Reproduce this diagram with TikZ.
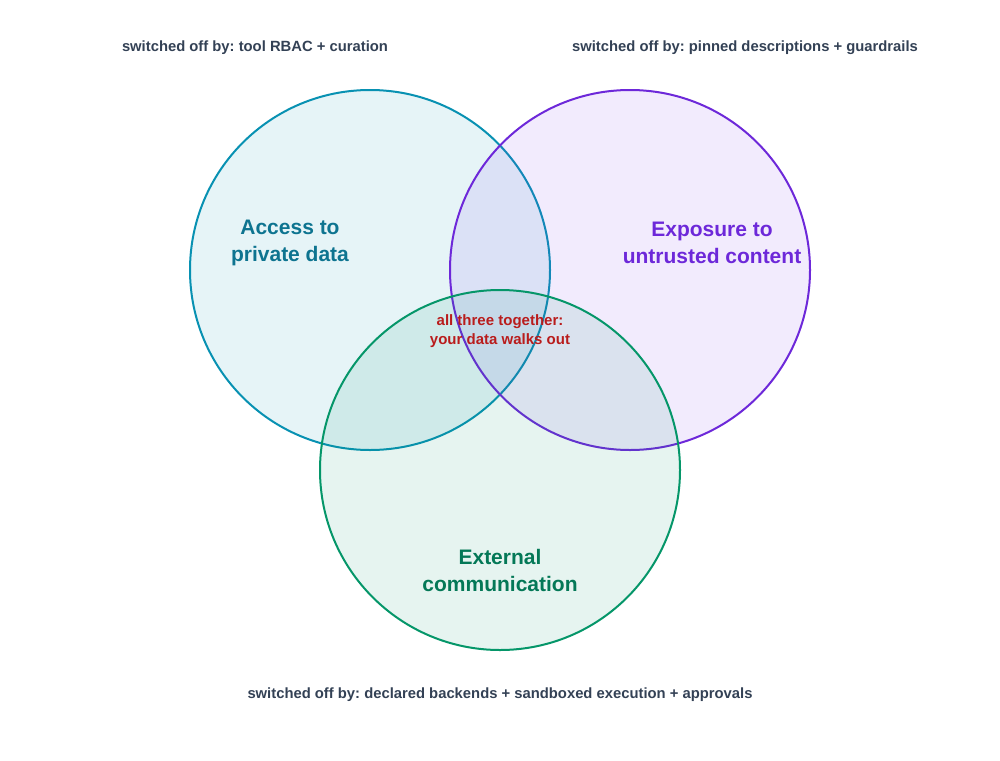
\documentclass[tikz,border=0pt]{standalone}
\usepackage{fontspec}
\setmainfont{Liberation Sans}
\usepackage{tikz}
\frenchspacing
\definecolor{cyan}{HTML}{0891B2}
\definecolor{teal}{HTML}{0E7490}
\definecolor{purple}{HTML}{6D28D9}
\definecolor{violet}{HTML}{7C3AED}
\definecolor{green}{HTML}{059669}
\definecolor{darkgreen}{HTML}{047857}
\definecolor{red}{HTML}{B91C1C}
\definecolor{slate}{HTML}{334155}
\tikzset{
  set/.style={line width=2pt, fill opacity=0.1},
  setlabel/.style={font=\fontsize{21}{27}\selectfont\bfseries, align=center},
  offlabel/.style={font=\fontsize{14.8}{18}\selectfont\bfseries, text=slate},
}

\begin{document}
\begin{tikzpicture}[x=1pt, y=-1pt]
    \useasboundingbox (0,0) rectangle (1000,760);

    \draw[set, draw=cyan, fill=cyan] (370,270) circle [radius=180];
    \draw[set, draw=purple, fill=violet] (630,270) circle [radius=180];
    \draw[set, draw=green, fill=green] (500,470) circle [radius=180];

    \node[setlabel, text=teal] (access) at (290,243) {Access to\\private data};
    \node[setlabel, text=purple] (exposure) at (712,243) {Exposure to\\untrusted content};
    \node[setlabel, text=darkgreen] (external) at (500,570) {External\\communication};
    \node[font=\fontsize{15}{19}\selectfont\bfseries, align=center, text=red] (together) at (500,331.5) {all three together:\\your data walks out};

    \node[offlabel] (offaccess) at (255,48) {switched off by: tool RBAC + curation};
    \node[offlabel] (offexposure) at (745,48) {switched off by: pinned descriptions + guardrails};
    \node[offlabel] (offexternal) at (500,695) {switched off by: declared backends + sandboxed execution + approvals};
\end{tikzpicture}
\end{document}
